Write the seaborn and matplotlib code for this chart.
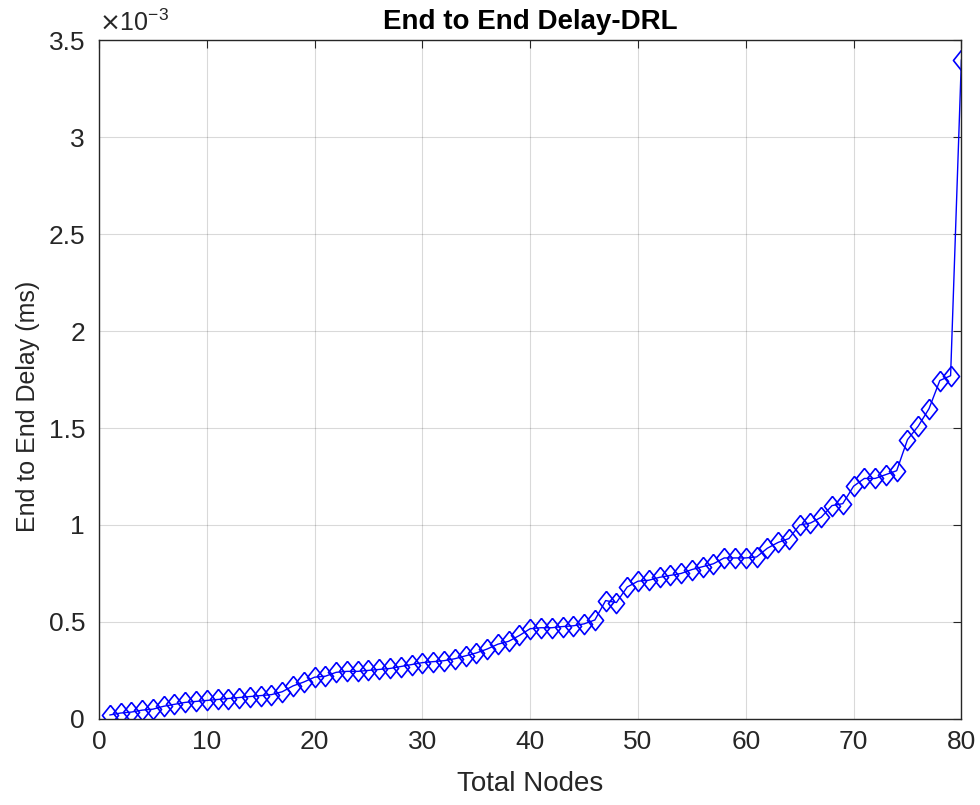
import numpy as np
import pandas as pd
import matplotlib
matplotlib.use("Agg")
import matplotlib.pyplot as plt
import seaborn as sns

# Node counts and measured end-to-end delay (in units of 1e-3 ms)
nodes = list(range(1, 81))
delay_e3 = [
    0.020, 0.030, 0.035, 0.045, 0.050, 0.065, 0.075, 0.085, 0.090, 0.095,
    0.100, 0.105, 0.110, 0.115, 0.120, 0.125, 0.140, 0.170, 0.190, 0.215,
    0.220, 0.240, 0.245, 0.245, 0.250, 0.255, 0.260, 0.270, 0.280, 0.290,
    0.295, 0.300, 0.310, 0.325, 0.340, 0.360, 0.385, 0.400, 0.430, 0.465,
    0.470, 0.470, 0.476, 0.480, 0.490, 0.510, 0.610, 0.600, 0.680, 0.710,
    0.715, 0.730, 0.740, 0.750, 0.770, 0.785, 0.800, 0.830, 0.830, 0.830,
    0.835, 0.880, 0.910, 0.930, 1.000, 1.010, 1.040, 1.100, 1.110, 1.200,
    1.240, 1.240, 1.260, 1.280, 1.440, 1.510, 1.600, 1.745, 1.770, 3.400,
]
scale = 1e-3
x_ticks = [0, 10, 20, 30, 40, 50, 60, 70, 80]
y_ticks_e3 = [0, 0.5, 1, 1.5, 2, 2.5, 3, 3.5]
y_tick_labels = ["0", "0.5", "1", "1.5", "2", "2.5", "3", "3.5"]

df = pd.DataFrame({"nodes": nodes, "delay": np.array(delay_e3) * scale})

sns.set_theme(style="white")
plt.rcParams["font.family"] = ["Liberation Sans", "DejaVu Sans"]

fig = plt.figure(figsize=(9.8, 8.05), dpi=100)
ax = fig.add_axes([0.101, 0.107, 0.880, 0.843])

diamond = [(0, 1), (0.8, 0), (0, -1), (-0.8, 0), (0, 1)]
sns.lineplot(data=df, x="nodes", y="delay", ax=ax, color="#0000ff",
             linewidth=1.0, marker=diamond, markersize=14.5,
             markerfacecolor="none", markeredgecolor="#0000ff",
             markeredgewidth=1.2, estimator=None, sort=False)

ax.set_xlim(0, 80)
ax.set_ylim(0, 3.5 * scale)
ax.set_xticks(x_ticks)
ax.set_xticklabels([str(t) for t in x_ticks])
ax.set_yticks([v * scale for v in y_ticks_e3])
ax.set_yticklabels(y_tick_labels)

dark = "#262626"
ax.grid(True, color="#000000", alpha=0.15, linewidth=0.8)
ax.set_axisbelow(True)
for s in ax.spines.values():
    s.set_color(dark)
    s.set_linewidth(1.0)
ax.tick_params(axis="both", which="both", direction="in", length=6,
               width=0.8, color=dark, labelcolor=dark, labelsize=19,
               top=True, right=True)
ax.tick_params(axis="x", pad=8)
ax.tick_params(axis="y", pad=10)

ax.set_xlabel("Total Nodes", fontsize=20, color=dark)
ax.set_ylabel("End to End Delay (ms)", fontsize=18, color=dark)
ax.xaxis.set_label_coords(0.5, -0.077)
ax.yaxis.set_label_coords(-0.068, 0.46)
ax.set_title("End to End Delay-DRL", fontsize=20, fontweight="bold",
             color="black", pad=8)

ax.text(0.0, 1.006, r"$\times\mathregular{10^{-3}}$", transform=ax.transAxes,
        fontsize=18, color=dark, ha="left", va="bottom")

fig.savefig("out.png", dpi=100)
